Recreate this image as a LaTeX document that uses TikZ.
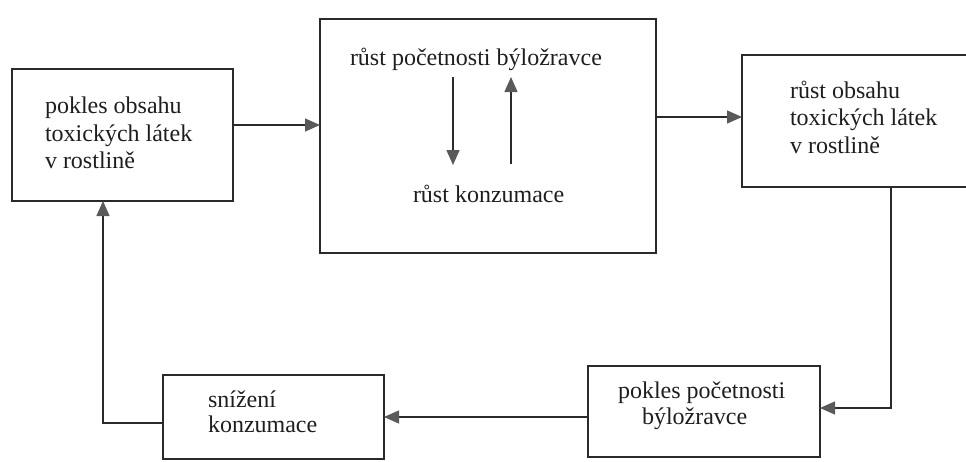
\documentclass[tikz,border=0pt]{standalone}
\usepackage{fontspec}
\setmainfont{Liberation Serif}
\usetikzlibrary{arrows.meta,calc}
\definecolor{lineC}{HTML}{2A2A2A}
\definecolor{txtC}{HTML}{1E1E1E}
\definecolor{tipC}{HTML}{5A5A5A}
\begin{document}
\begin{tikzpicture}[x=1pt,y=-1pt,
  box/.style={draw=lineC, line width=1.4pt, inner sep=0pt, outer sep=0pt},
  openbox/.style={draw=none, inner sep=0pt, outer sep=0pt},
  txt/.style={anchor=base west, inner sep=0pt, outer sep=0pt, text=txtC, font=\fontsize{24}{28}\selectfont},
  arr/.style={draw=lineC, line width=1.4pt, -{Triangle[length=15pt,width=13pt,color=tipC]}},
  edge/.style={draw=lineC, line width=1.4pt}]
\useasboundingbox (0,0) rectangle (966,461);

% boxes
\node[box, minimum width=221pt, minimum height=132pt] (L) at (122.5,135) {};
\node[box, minimum width=336pt, minimum height=234pt] (M) at (488,136) {};
\node[openbox, minimum width=224pt, minimum height=132pt] (R) at (854,121) {};
\draw[edge] (R.north east) -- (R.north west) -- (R.south west) -- (R.south east);
\node[box, minimum width=232pt, minimum height=91pt] (BR) at (704,411.5) {};
\node[box, minimum width=221pt, minimum height=84pt] (BL) at (273.5,417) {};

% texts
\node[txt] (L1) at (45,113) {pokles obsahu};
\node[txt] (L2) at (45,141) {toxických látek};
\node[txt] (L3) at (45,168) {v rostlině};
\node[txt] (M1) at (350,65) {růst početnosti býložravce};
\node[txt] (M2) at (413,202) {růst konzumace};
\node[txt] (R1) at (790,98) {růst obsahu};
\node[txt] (R2) at (790,125) {toxických látek};
\node[txt] (R3) at (790,153) {v rostlině};
\node[txt] (BR1) at (618,398) {pokles početnosti};
\node[txt] (BR2) at (642,424) {býložravce};
\node[txt] (BL1) at (208,407) {snížení};
\node[txt] (BL2) at (208,432) {konzumace};

% inner arrows
\coordinate (d1) at (453,77);
\coordinate (d2) at (453,165);
\coordinate (u1) at (511,164);
\coordinate (u2) at (511,77);
\draw[arr] (d1) -- (d2);
\draw[arr] (u1) -- (u2);

% connectors
\draw[arr] ([yshift=10pt]L.east) -- ([yshift=10pt]L.east -| M.west);
\draw[arr] ([yshift=19pt]M.east) -- ([yshift=19pt]M.east -| R.west);
\draw[arr] ([xshift=37pt]R.south) |- ([yshift=3.5pt]BR.east);
\draw[arr] ([yshift=-5.5pt]BR.west) -- ([yshift=-5.5pt]BR.west -| BL.east);
\draw[arr] ([yshift=-6pt]BL.west) -| ([xshift=-19.5pt]L.south);
\end{tikzpicture}
\end{document}
